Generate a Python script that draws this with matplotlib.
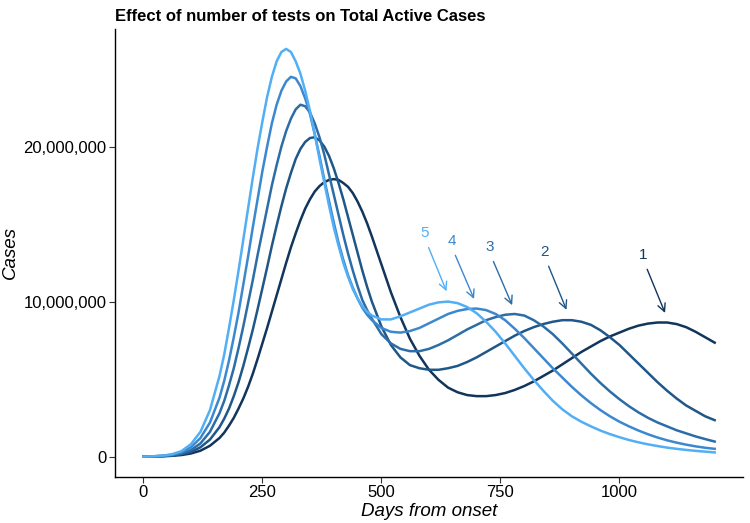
import numpy as np
import matplotlib
matplotlib.use("Agg")
import matplotlib.pyplot as plt
from matplotlib.ticker import FuncFormatter

plt.rcParams['font.family'] = ['Liberation Sans', 'DejaVu Sans']

# days: 20-day steps, 10-day steps around the first peak
days = list(range(0, 160, 20)) + list(range(160, 480, 10)) + list(range(480, 1201, 20))

# active cases in millions
cases_1 = [0, 0.01, 0.02, 0.05, 0.1, 0.2, 0.38, 0.7,
           1.2, 1.55, 2.0, 2.5, 3.1, 3.75, 4.5, 5.35, 6.3, 7.3,
           8.3, 9.35, 10.4, 11.45, 12.5, 13.5, 14.4, 15.25, 16.0, 16.6,
           17.1, 17.45, 17.7, 17.85, 17.9, 17.85, 17.65, 17.4, 17.0, 16.45,
           15.8, 15.05,
           14.2, 12.4, 10.6, 9.0, 7.6, 6.5, 5.6, 4.95, 4.45, 4.15,
           3.97, 3.9, 3.9, 3.97, 4.1, 4.3, 4.55, 4.85, 5.2, 5.55,
           5.95, 6.35, 6.75, 7.1, 7.45, 7.75, 8.0, 8.25, 8.45, 8.58,
           8.65, 8.65, 8.55, 8.35, 8.05, 7.7, 7.35]
cases_2 = [0, 0.01, 0.03, 0.07, 0.15, 0.3, 0.6, 1.1,
           1.9, 2.45, 3.1, 3.9, 4.8, 5.85, 7.0, 8.2, 9.5, 10.85,
           12.2, 13.6, 14.9, 16.15, 17.3, 18.3, 19.2, 19.85, 20.3, 20.55,
           20.6, 20.4, 20.0, 19.4, 18.6, 17.65, 16.6, 15.45, 14.3, 13.15,
           12.0, 10.95,
           10.0, 8.4, 7.2, 6.4, 5.9, 5.7, 5.6, 5.6, 5.7, 5.85,
           6.1, 6.4, 6.75, 7.1, 7.45, 7.8, 8.1, 8.35, 8.55, 8.7,
           8.8, 8.8, 8.7, 8.5, 8.15, 7.7, 7.2, 6.6, 6.0, 5.4,
           4.8, 4.25, 3.75, 3.3, 2.95, 2.6, 2.35]
cases_3 = [0, 0.01, 0.04, 0.09, 0.2, 0.42, 0.85, 1.6,
           2.8, 3.6, 4.6, 5.7, 7.0, 8.4, 9.9, 11.4, 13.0, 14.5,
           16.0, 17.5, 18.8, 20.0, 21.0, 21.8, 22.4, 22.7, 22.6, 22.2,
           21.5, 20.6, 19.5, 18.2, 16.9, 15.6, 14.3, 13.1, 12.0, 11.0,
           10.1, 9.45,
           8.9, 7.9, 7.3, 6.95, 6.8, 6.8, 6.95, 7.2, 7.5, 7.85,
           8.2, 8.5, 8.8, 9.0, 9.15, 9.2, 9.1, 8.8, 8.4, 7.9,
           7.3, 6.65, 6.0, 5.35, 4.75, 4.2, 3.7, 3.25, 2.85, 2.5,
           2.2, 1.95, 1.7, 1.5, 1.3, 1.13, 0.97]
cases_4 = [0, 0.02, 0.05, 0.12, 0.28, 0.6, 1.2, 2.2,
           3.8, 4.9, 6.2, 7.7, 9.3, 11.1, 12.9, 14.8, 16.6, 18.4,
           20.0, 21.5, 22.7, 23.6, 24.2, 24.5, 24.4, 23.9, 23.1, 22.1,
           20.8, 19.4, 17.9, 16.5, 15.1, 13.8, 12.7, 11.7, 10.9, 10.2,
           9.6, 9.15,
           8.8, 8.3, 8.05, 8.0, 8.1, 8.3, 8.6, 8.9, 9.2, 9.4,
           9.52, 9.55, 9.45, 9.2, 8.8, 8.25, 7.65, 7.0, 6.35, 5.7,
           5.1, 4.5, 3.95, 3.45, 3.0, 2.6, 2.25, 1.95, 1.68, 1.44,
           1.23, 1.05, 0.9, 0.77, 0.66, 0.57, 0.5]
cases_5 = [0, 0.02, 0.06, 0.15, 0.35, 0.8, 1.6, 3.0,
           5.2, 6.6, 8.3, 10.1, 12.0, 14.0, 16.0, 18.0, 19.9, 21.6,
           23.2, 24.5, 25.5, 26.1, 26.3, 26.1, 25.5, 24.7, 23.6, 22.3,
           20.8, 19.2, 17.7, 16.2, 14.8, 13.6, 12.5, 11.6, 10.8, 10.2,
           9.7, 9.35,
           9.1, 8.85, 8.85, 9.05, 9.3, 9.55, 9.8, 9.95, 10.0, 9.9,
           9.65, 9.25, 8.7, 8.05, 7.3, 6.5, 5.7, 4.95, 4.25, 3.6,
           3.05, 2.6, 2.25, 1.95, 1.68, 1.45, 1.25, 1.07, 0.92, 0.79,
           0.68, 0.58, 0.5, 0.43, 0.37, 0.32, 0.27]

series = [cases_1, cases_2, cases_3, cases_4, cases_5]
labels = ['1', '2', '3', '4', '5']
colors = ['#12355B', '#1F5788', '#2C6DA8', '#3C88CF', '#52AEF5']

# label text position and arrow tip (day, millions)
label_days = [1050, 843, 727, 647, 591]
label_vals = [13.0, 13.2, 13.5, 13.9, 14.4]
tip_days = [1098, 891, 777, 697, 639]
tip_vals = [9.1, 9.3, 9.6, 10.0, 10.5]

fig = plt.figure(figsize=(7.5, 5.23), dpi=100)
ax = fig.add_axes([0.153, 0.088, 0.838, 0.857])

for vals, col in zip(series, colors):
    ax.plot(days, np.array(vals) * 1e6, color=col, linewidth=1.8)

for lab, col, lx, ly, tx, ty in zip(labels, colors, label_days, label_vals, tip_days, tip_vals):
    ax.annotate('', xy=(tx, ty * 1e6), xytext=(lx + 6, (ly - 0.75) * 1e6),
                arrowprops=dict(arrowstyle='->', color=col, lw=1.0,
                                mutation_scale=14))
    ax.text(lx, ly * 1e6, lab, color=col, fontsize=11, ha='center', va='center')

ax.set_xlim(-60, 1260)
ax.set_ylim(-1.315e6, 27.6e6)
ax.set_xticks([0, 250, 500, 750, 1000])
ax.set_yticks([0, 10e6, 20e6])
ax.yaxis.set_major_formatter(FuncFormatter(lambda v, p: f'{int(v):,}'))
ax.tick_params(labelsize=12, length=4, pad=2, color='#333333', labelcolor='black')

for side in ['top', 'right']:
    ax.spines[side].set_visible(False)
for side in ['left', 'bottom']:
    ax.spines[side].set_linewidth(1.0)

ax.set_xlabel('Days from onset', fontsize=13.5, style='italic', labelpad=2)
ax.set_ylabel('Cases', fontsize=13.5, style='italic')
ax.yaxis.set_label_coords(-0.152, 0.5)
fig.text(0.153, 0.969, 'Effect of number of tests on Total Active Cases',
         fontsize=12, fontweight='bold', ha='left', va='center')

plt.savefig('out.png', dpi=100)
plt.close()
